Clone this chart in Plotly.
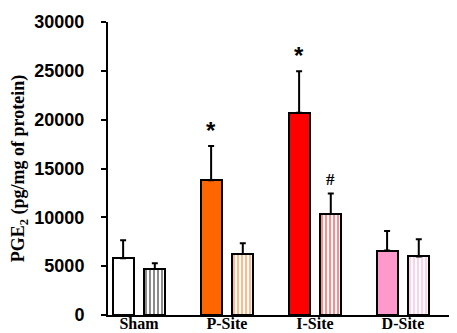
import plotly.graph_objects as go

categories = ["Sham", "P-Site", "I-Site", "D-Site"]
solid_vals = [5800, 13800, 20700, 6600]
solid_err = [1850, 3500, 4250, 2000]
hatch_vals = [4700, 6250, 10350, 6000]
hatch_err = [600, 1100, 2100, 1750]
solid_colors = ["#FFFFFF", "#FF6600", "#FF0000", "#FF99CC"]
hatch_colors = ["#000000", "#FF6600", "#FF0000", "#FF99CC"]
solid_marks = ["", "*", "*", ""]
hatch_marks = ["", "", "#", ""]
yticks = [0, 5000, 10000, 15000, 20000, 25000, 30000]

x = list(range(len(categories)))
W = 0.24
OFF1 = -0.30
OFF2 = 0.06

fig = go.Figure()
fig.add_trace(go.Bar(
    x=x, y=solid_vals, width=W, offset=OFF1,
    marker=dict(color=solid_colors, line=dict(color="black", width=2)),
    error_y=dict(type="data", symmetric=False, array=solid_err,
                 arrayminus=[0] * 4, color="black", thickness=2, width=3),
    showlegend=False,
))
fig.add_trace(go.Bar(
    x=x, y=hatch_vals, width=W, offset=OFF2,
    marker=dict(color="white", line=dict(color="black", width=2),
                pattern=dict(shape="|", fgcolor=hatch_colors, bgcolor="white",
                             size=4, solidity=0.45, fillmode="overlay")),
    error_y=dict(type="data", symmetric=False, array=hatch_err,
                 arrayminus=[0] * 4, color="black", thickness=2, width=3),
    showlegend=False,
))

for i in x:
    if solid_marks[i]:
        fig.add_annotation(x=i + OFF1 + W / 2, y=solid_vals[i] + solid_err[i],
                           text="<b>" + solid_marks[i] + "</b>", showarrow=False,
                           yanchor="bottom", yshift=0,
                           font=dict(family="Liberation Sans, Arial", size=24,
                                     color="black"))
    if hatch_marks[i]:
        fig.add_annotation(x=i + OFF2 + W / 2, y=hatch_vals[i] + hatch_err[i],
                           text="<b>" + hatch_marks[i] + "</b>", showarrow=False,
                           yanchor="bottom", yshift=2,
                           font=dict(family="Liberation Serif, Times New Roman", size=17,
                                     color="black"))

fig.update_layout(
    width=457, height=333,
    margin=dict(l=100, r=4, t=10, b=26),
    plot_bgcolor="white", paper_bgcolor="white",
    bargap=0,
    xaxis=dict(
        tickmode="array", tickvals=x, ticktext=["<b>" + c + "</b>" for c in categories],
        range=[-0.352, 3.66], showline=True, linecolor="black", linewidth=2,
        ticks="", showgrid=False, zeroline=False, ticklabelstandoff=-7,
        tickfont=dict(family="Liberation Serif, Times New Roman", size=16,
                      color="black"),
    ),
    yaxis=dict(
        range=[0, 30000], tickvals=yticks,
        ticktext=["<b>%d</b>" % v for v in yticks],
        showline=True, linecolor="black", linewidth=2,
        ticks="outside", ticklen=5, tickwidth=2, tickcolor="black",
        showgrid=False, zeroline=False, ticklabelstandoff=13,
        tickfont=dict(family="Liberation Sans, Arial", size=18, color="black"),
        title=dict(text="<b>PGE<sub>2</sub> (pg/mg of protein)</b>", standoff=6,
                   font=dict(family="Liberation Serif, Times New Roman", size=18,
                             color="black")),
    ),
)

fig.write_html("out.html")
